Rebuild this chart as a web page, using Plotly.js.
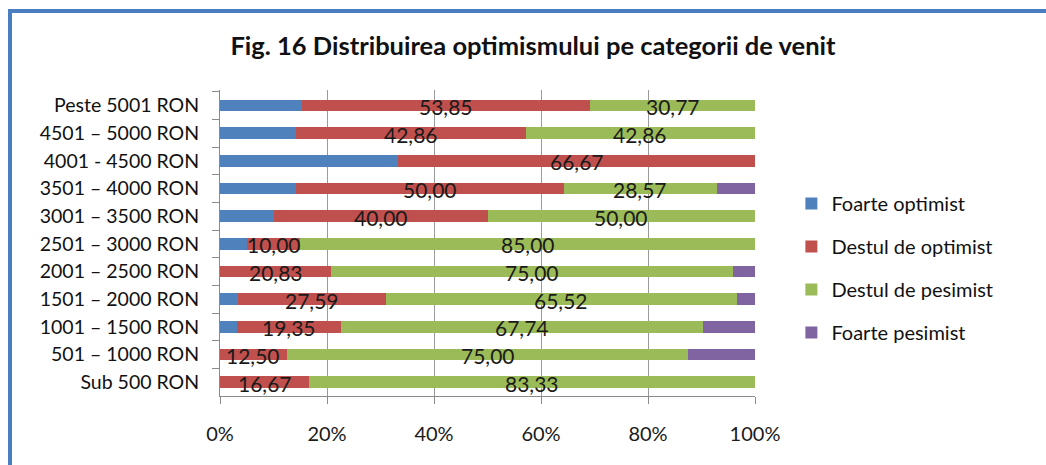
<!DOCTYPE html>
<html>
<head>
<meta charset="utf-8">
<script src="https://cdn.plot.ly/plotly-3.0.1.min.js"></script>
<style>
  html, body { margin: 0; padding: 0; background: #ffffff; }
  #wrap { position: relative; width: 1046px; height: 465px; overflow: hidden; }
  #chart { position: absolute; left: 0; top: 0; width: 1046px; height: 465px; }
  #bTop { position: absolute; left: 8px; top: 9px; width: 1038px; height: 4px; background: #4a7ec0; }
  #bLeft { position: absolute; left: 8px; top: 9px; width: 4px; height: 456px; background: #4a7ec0; }
</style>
</head>
<body>
<div id="wrap">
  <div id="chart"></div>
  <div id="bTop"></div>
  <div id="bLeft"></div>
</div>
<script>
// Categories, top to bottom
const categories = [
  "Peste 5001 RON",
  "4501 \u2013 5000 RON",
  "4001 - 4500 RON",
  "3501 \u2013 4000 RON",
  "3001 \u2013 3500 RON",
  "2501 \u2013 3000 RON",
  "2001 \u2013 2500 RON",
  "1501 \u2013 2000 RON",
  "1001 \u2013 1500 RON",
  "501 \u2013 1000 RON",
  "Sub 500 RON"
];
const seriesNames = ["Foarte optimist", "Destul de optimist", "Destul de pesimist", "Foarte pesimist"];
const foarteOptimist   = [15.38, 14.29, 33.33, 14.29, 10.00, 5.00, 0.00, 3.45, 3.23, 0.00, 0.00];
const destulOptimist   = [53.85, 42.86, 66.67, 50.00, 40.00, 10.00, 20.83, 27.59, 19.35, 12.50, 16.67];
const destulPesimist   = [30.77, 42.86, 0.00, 28.57, 50.00, 85.00, 75.00, 65.52, 67.74, 75.00, 83.33];
const foartePesimist   = [0.00, 0.00, 0.00, 7.14, 0.00, 0.00, 4.17, 3.45, 9.68, 12.50, 0.00];
const xTickVals = [0, 20, 40, 60, 80, 100];
const xTickText = ["0%", "20%", "40%", "60%", "80%", "100%"];

const colors = ["#4f81bd", "#c0504d", "#9bbb59", "#8064a2"];
const showLabels = [false, true, true, false];
const allValues = [foarteOptimist, destulOptimist, destulPesimist, foartePesimist];
const FONT = "Lato, 'Noto Sans', sans-serif";

function fmt(v) { return v.toFixed(2).replace(".", ","); }

const traces = allValues.map((vals, i) => ({
  type: "bar",
  orientation: "h",
  name: seriesNames[i],
  legendgroup: "g" + i,
  y: categories,
  x: vals,
  marker: { color: colors[i], line: { width: 0 } },
  hoverinfo: "name+x"
}));

// Data labels placed at segment centres (data coordinates)
const annotations = [];
categories.forEach((cat, r) => {
  let start = 0;
  allValues.forEach((vals, i) => {
    const v = vals[r];
    if (showLabels[i] && v > 0) {
      annotations.push({
        x: start + v / 2, y: cat, xref: "x", yref: "y",
        text: fmt(v), showarrow: false,
        xanchor: "center", yanchor: "middle", yshift: -1,
        font: { family: FONT, size: 21, color: "#1a1a1a" }
      });
    }
    start += v;
  });
});

const layout = {
  width: 1046,
  height: 465,
  paper_bgcolor: "#ffffff",
  plot_bgcolor: "#ffffff",
  barmode: "stack",
  bargap: 0.58,
  showlegend: true,
  annotations: annotations,
  margin: { l: 220, r: 291, t: 90, b: 69 },
  title: {
    text: "<b>Fig. 16 Distribuirea optimismului pe categorii de venit</b>",
    font: { family: FONT, size: 25.5, color: "#111111" },
    x: 0.585, xref: "paper", xanchor: "center",
    y: 0.9, yref: "container", yanchor: "middle"
  },
  xaxis: {
    range: [0, 100],
    tickvals: xTickVals,
    ticktext: xTickText,
    showgrid: true,
    gridcolor: "#9a9a9a",
    gridwidth: 1,
    zeroline: false,
    showline: true,
    linecolor: "#8a8a8a",
    ticks: "outside",
    ticklen: 7,
    tickcolor: "#8a8a8a",
    ticklabelstandoff: 13,
    tickfont: { family: FONT, size: 20, color: "#1a1a1a" },
    fixedrange: true
  },
  yaxis: {
    type: "category",
    autorange: "reversed",
    showgrid: false,
    showline: true,
    linecolor: "#8a8a8a",
    ticks: "outside",
    tickson: "boundaries",
    ticklen: 7,
    tickcolor: "#8a8a8a",
    ticklabelstandoff: 16,
    tickfont: { family: FONT, size: 19.5, color: "#111111" },
    fixedrange: true
  },
  legend: {
    x: 1.068, xanchor: "left",
    y: 0.418, yanchor: "middle",
    traceorder: "grouped",
    tracegroupgap: 14,
    font: { family: FONT, size: 20, color: "#111111" },
    itemwidth: 30,
    bgcolor: "rgba(0,0,0,0)"
  }
};

Plotly.newPlot("chart", traces, layout, { displayModeBar: false, staticPlot: true });
</script>
</body>
</html>
